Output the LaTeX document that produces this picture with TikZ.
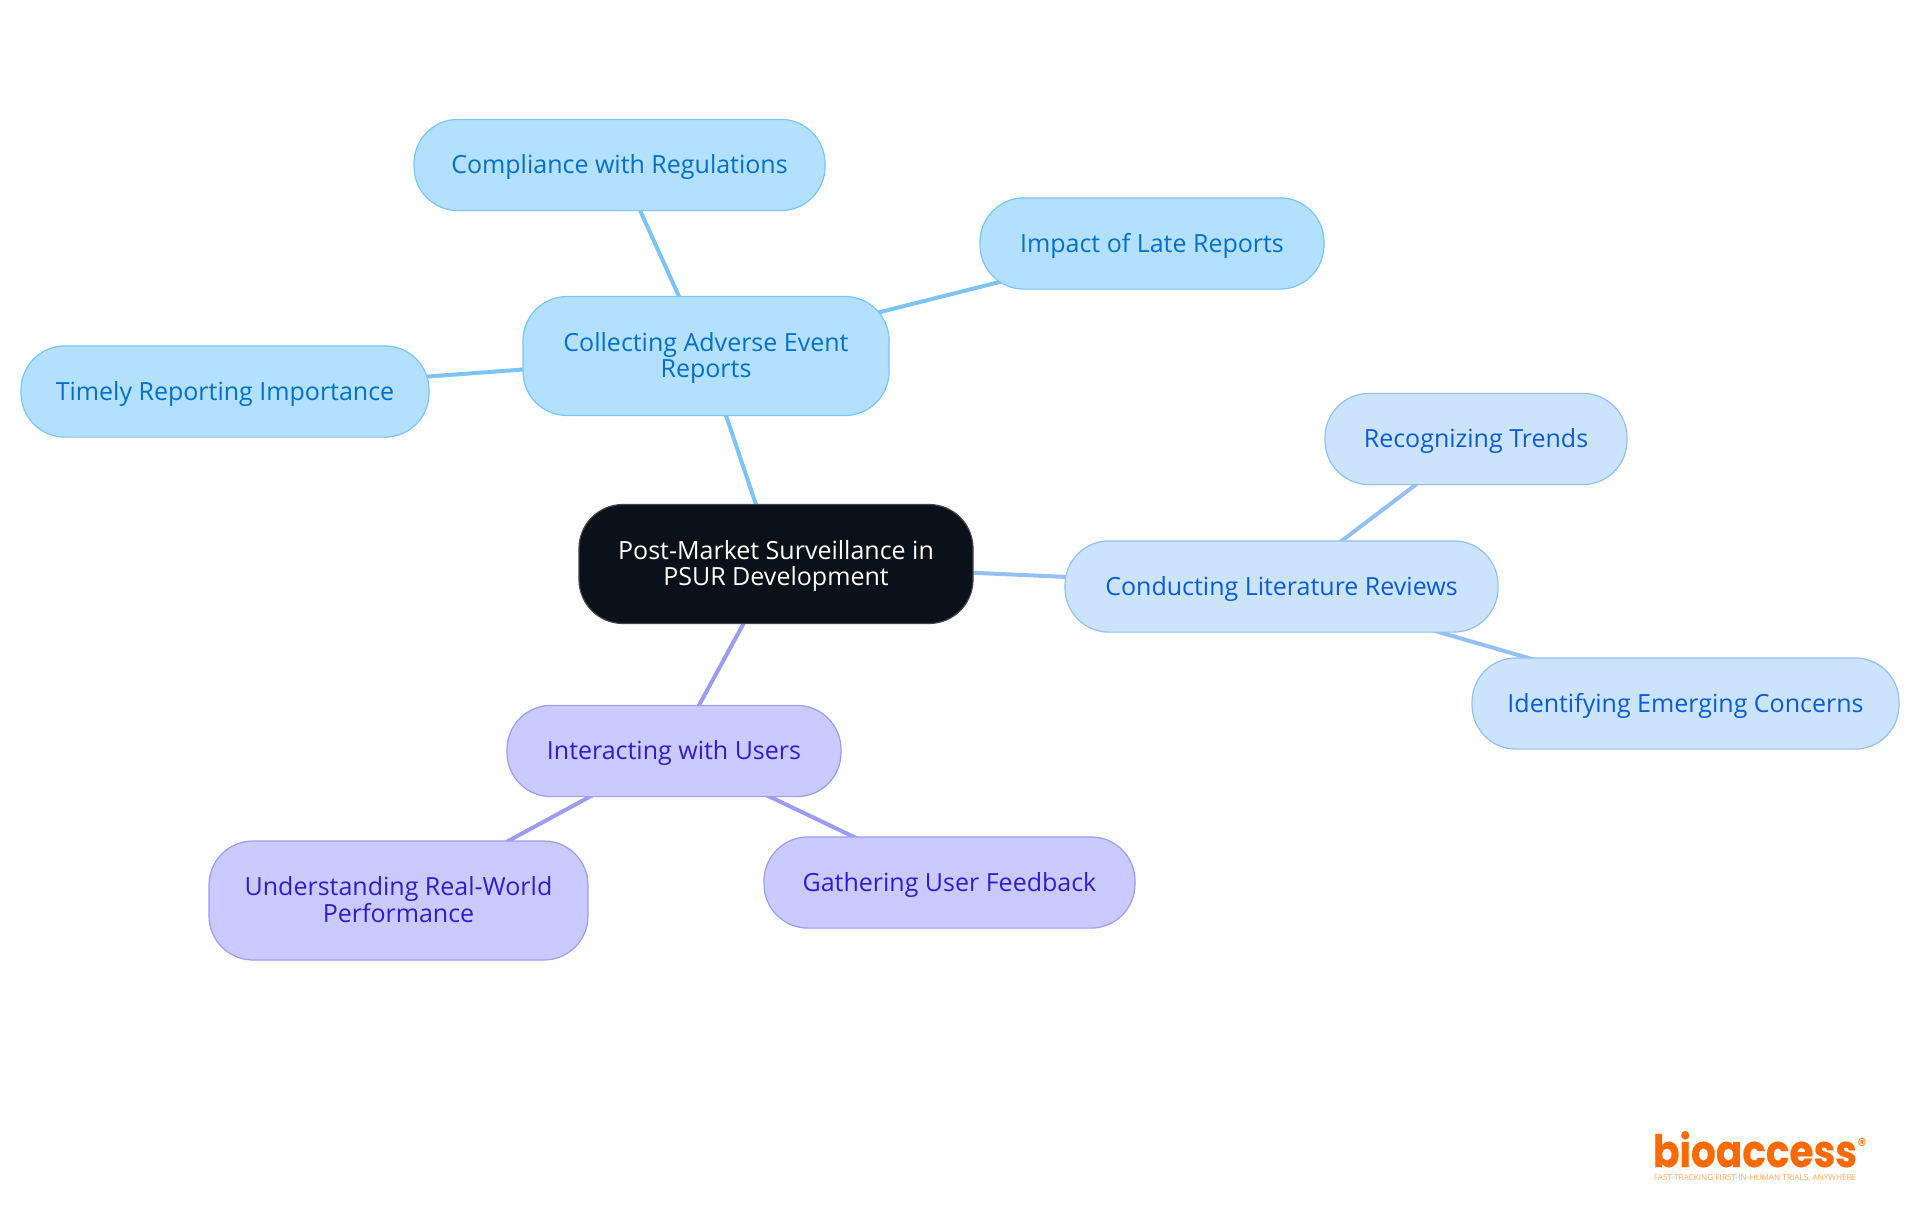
\documentclass[tikz,border=0pt]{standalone}
\usepackage{fontspec}
\setmainfont{Open Sans}
\newfontfamily\logofont{Poppins}[FakeStretch=0.87, BoldFeatures={FakeBold=0.4}]
\usetikzlibrary{backgrounds}
\definecolor{rootfill}{HTML}{0B1119}
\definecolor{rootline}{HTML}{3F444A}
\definecolor{skyfill}{HTML}{B3E0FF}
\definecolor{skyline}{HTML}{7CC4F4}
\definecolor{skytext}{HTML}{0070C4}
\definecolor{bluefill}{HTML}{CCE3FD}
\definecolor{blueline}{HTML}{93C0F1}
\definecolor{bluetext}{HTML}{0B5CCF}
\definecolor{violetfill}{HTML}{C9CAFF}
\definecolor{violetline}{HTML}{9C9CF0}
\definecolor{violettext}{HTML}{2E1FC4}
\definecolor{logoorange}{HTML}{FF6A00}
\tikzset{
    box/.style={draw, line width=0.6pt, rounded corners=22pt, align=center, inner sep=0pt,
        text height=11.4pt, text depth=2.8pt, font=\fontsize{12.5}{13.4}\selectfont},
    twolines/.style={text height=24.7pt},
    rootbox/.style={box, fill=rootfill, draw=rootline, text=white},
    skybox/.style={box, fill=skyfill, draw=skyline, text=skytext},
    bluebox/.style={box, fill=bluefill, draw=blueline, text=bluetext},
    violetbox/.style={box, fill=violetfill, draw=violetline, text=violettext},
    skylink/.style={line width=2pt, draw=skyline},
    bluelink/.style={line width=2pt, draw=blueline},
    violetlink/.style={line width=2pt, draw=violetline}
}
\begin{document}
\begin{tikzpicture}[x=0.5pt, y=-0.5pt]
    \useasboundingbox (0,0) rectangle (1920,1215);

    % Central topic
    \node[rootbox, twolines, minimum width=197pt, minimum height=59.5pt] (root) at (776,564) {Post-Market Surveillance in\\PSUR Development};

    % Adverse event reports
    \node[skybox, twolines, minimum width=183pt, minimum height=59.5pt] (adverse) at (706,356) {Collecting Adverse Event\\Reports};
    \node[skybox, minimum width=205.5pt, minimum height=45.6pt] (compliance) at (619.5,165) {Compliance with Regulations};
    \node[skybox, minimum width=172pt, minimum height=45.6pt] (late) at (1152,243.5) {Impact of Late Reports};
    \node[skybox, minimum width=204pt, minimum height=45.6pt] (timely) at (225,391.5) {Timely Reporting Importance};

    % Literature reviews
    \node[bluebox, minimum width=216.5pt, minimum height=45.6pt] (literature) at (1281.5,586.5) {Conducting Literature Reviews};
    \node[bluebox, minimum width=151pt, minimum height=45.6pt] (trends) at (1476,439) {Recognizing Trends};
    \node[bluebox, minimum width=213.5pt, minimum height=45.6pt] (concerns) at (1685.5,703.5) {Identifying Emerging Concerns};

    % Users
    \node[violetbox, minimum width=167pt, minimum height=45.6pt] (users) at (674,751) {Interacting with Users};
    \node[violetbox, twolines, minimum width=189.5pt, minimum height=59.5pt] (performance) at (398.5,900.5) {Understanding Real-World\\Performance};
    \node[violetbox, minimum width=185.5pt, minimum height=45.6pt] (feedback) at (949.5,882.5) {Gathering User Feedback};

    % Links behind the boxes
    \begin{pgfonlayer}{background}
        \draw[skylink] (root.center) -- (adverse.center);
        \draw[skylink] (adverse.center) -- (compliance.center);
        \draw[skylink] (adverse.center) -- (late.center);
        \draw[skylink] (adverse.center) -- (timely.center);
        \draw[bluelink] (root.center) -- (literature.center);
        \draw[bluelink] (literature.center) -- (trends.center);
        \draw[bluelink] (literature.center) -- (concerns.center);
        \draw[violetlink] (root.center) -- (users.center);
        \draw[violetlink] (users.center) -- (performance.center);
        \draw[violetlink] (users.center) -- (feedback.center);
    \end{pgfonlayer}

    % Logo
    \node[text=logoorange, inner sep=0pt, anchor=base, font=\logofont\bfseries\fontsize{22.4}{23}\selectfont] (logo) at (1755,1167) {bioaccess};
    \node[text=logoorange, inner sep=0pt, font=\logofont\fontsize{10}{10}\selectfont] (mark) at (1862,1145) {®};
    \node[text=logoorange!60, inner sep=0pt, font=\fontsize{4.1}{4.2}\selectfont] (tagline) at (1755,1178) {FAST-TRACKING FIRST-IN-HUMAN TRIALS, ANYWHERE};
\end{tikzpicture}
\end{document}
